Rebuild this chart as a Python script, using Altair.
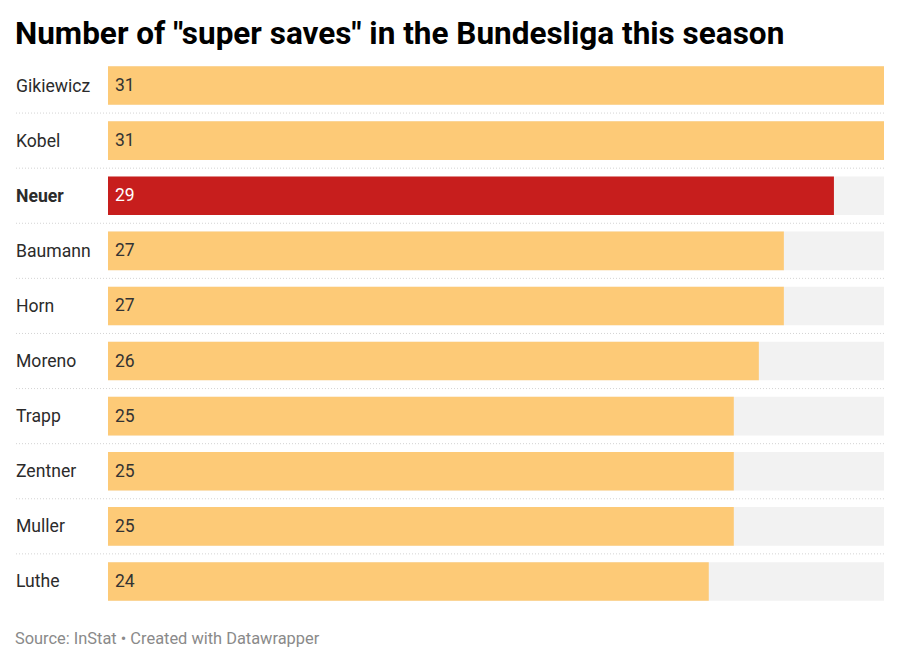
import altair as alt
import pandas as pd

names = ["Gikiewicz", "Kobel", "Neuer", "Baumann", "Horn", "Moreno", "Trapp", "Zentner", "Muller", "Luthe"]
saves = [31, 31, 29, 27, 27, 26, 25, 25, 25, 24]
highlight = ["Neuer"]
max_value = 31

df = pd.DataFrame({"name": names, "saves": saves})
df["hl"] = df["name"].isin(highlight)
df["full"] = max_value
df["sep"] = [i > 0 for i in range(len(names))]

W, H = 776, 551
FONT = "Roboto"

y = alt.Y("name:N", sort=names, axis=None,
          scale=alt.Scale(paddingInner=0.3, paddingOuter=0.15))
xs = alt.Scale(domain=[0, max_value], nice=False, zero=True)

base = alt.Chart(df)

bg = base.mark_bar(color="#f2f2f2", cornerRadius=0).encode(
    y=y, x=alt.X("full:Q", scale=xs, axis=None))

bars = base.mark_bar(cornerRadius=0).encode(
    y=y, x=alt.X("saves:Q", scale=xs, axis=None),
    color=alt.condition("datum.hl", alt.value("#c71e1d"), alt.value("#fdca77")))

vals = base.mark_text(align="left", baseline="middle", font=FONT, fontSize=17.5, dy=0.5).encode(
    y=y, x=alt.value(7), text="saves:Q",
    color=alt.condition("datum.hl", alt.value("#ffffff"), alt.value("#333333")))

labels_n = base.transform_filter("!datum.hl").mark_text(
    align="left", baseline="middle", font=FONT, fontSize=17.6, color="#2b2b2b", dy=1).encode(
    y=y, x=alt.value(-92), text="name:N")

labels_b = base.transform_filter("datum.hl").mark_text(
    align="left", baseline="middle", font=FONT, fontSize=17.6, fontWeight="bold",
    color="#2b2b2b", dy=1).encode(
    y=y, x=alt.value(-92), text="name:N")

seps = base.transform_filter("datum.sep").mark_rule(
    color="#d4d4d4", strokeDash=[1, 2], strokeWidth=1, yOffset=-8.3).encode(
    y=alt.Y("name:N", sort=names, axis=None, bandPosition=0,
            scale=alt.Scale(paddingInner=0.3, paddingOuter=0.15)),
    x=alt.value(-92), x2=alt.value(W))

footer = alt.Chart(pd.DataFrame({"t": ["Source: InStat • Created with Datawrapper"]})).mark_text(
    align="left", baseline="middle", font=FONT, fontSize=16.4, color="#8a8a8a").encode(
    x=alt.value(-93), y=alt.value(H + 30), text="t:N")

chart = alt.layer(bg, bars, seps, vals, labels_n, labels_b, footer).properties(
    width=W, height=H,
    background="#ffffff",
    title=alt.TitleParams(
        'Number of "super saves" in the Bundesliga this season',
        anchor="start", dx=-93, dy=4, fontSize=31.5, font=FONT, fontWeight="bold",
        color="#000000", offset=12, frame="group"),
    autosize=alt.AutoSizeParams(type="none"),
    padding={"left": 108, "top": 58, "right": 16, "bottom": 55},
).configure_view(strokeWidth=0, stroke=None)

chart.save("out.html", embed_options={"renderer": "svg", "actions": False})
